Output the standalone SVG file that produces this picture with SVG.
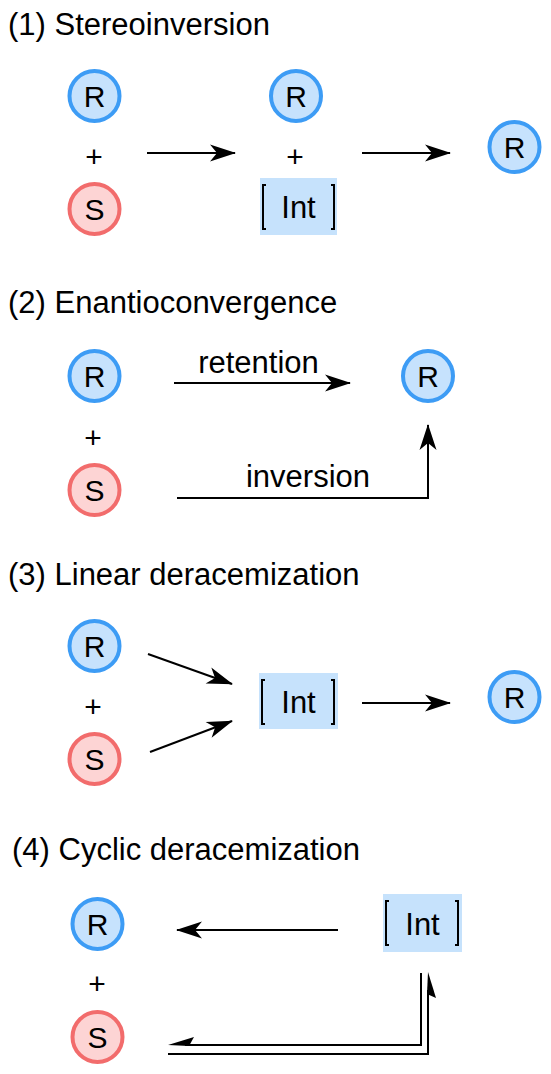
<svg xmlns="http://www.w3.org/2000/svg" width="551" height="1074" viewBox="0 0 551 1074">
<defs>
<style>
text{font-family:"Liberation Sans",Arial,sans-serif;fill:#000}
.t{font-size:31px}
.c{font-size:30px;text-anchor:middle}
.p{font-size:30px;text-anchor:middle}
.lb{font-size:31px;text-anchor:middle}
.r{fill:#c6e2fd;stroke:#3d9cf5;stroke-width:4}
.s{fill:#fdd4d4;stroke:#f26c6c;stroke-width:4}
.box{fill:#c6e2fc}
.br{fill:none;stroke:#000;stroke-width:2}
.ln{fill:none;stroke:#000;stroke-width:2}
.ar{marker-end:url(#ah)}
</style>
<marker id="ah" markerUnits="userSpaceOnUse" markerWidth="30" markerHeight="22" viewBox="-28 -11 30 22" refX="0" refY="0" orient="auto">
<path d="M1,0 L-25,-8.5 L-18,0 L-25,8.5 Z" fill="#000"/>
</marker>
</defs>

<g id="titles">
<text class="t" x="8" y="35">(1) Stereoinversion</text>
<text class="t" x="8" y="313">(2) Enantioconvergence</text>
<text class="t" x="8" y="585">(3) Linear deracemization</text>
<text class="t" x="12" y="860">(4) Cyclic deracemization</text>
</g>

<!-- Section 1 -->
<g id="s1-R1"><circle class="r" cx="94.5" cy="96" r="25"/><text class="c" x="94.5" y="106.5">R</text></g>
<g id="s1-plus1"><text class="p" x="94" y="167">+</text></g>
<g id="s1-S1"><circle class="s" cx="94.5" cy="209" r="25"/><text class="c" x="94.5" y="219.5">S</text></g>
<g id="s1-R2"><circle class="r" cx="296" cy="96" r="25"/><text class="c" x="296" y="106.5">R</text></g>
<g id="s1-plus2"><text class="p" x="295" y="167">+</text></g>
<g id="s1-Int"><rect class="box" x="260" y="178" width="77" height="57"/><path class="br" d="M266,185 h-3 v44 h3 M331,185 h3 v44 h-3"/><text class="c" x="298.5" y="217.5" style="font-size:31px">Int</text></g>
<g id="s1-R3"><circle class="r" cx="514.5" cy="147" r="25"/><text class="c" x="514.5" y="157.5">R</text></g>

<!-- Section 2 -->
<g id="s2-R1"><circle class="r" cx="94.5" cy="376" r="25"/><text class="c" x="94.5" y="386.5">R</text></g>
<g id="s2-plus"><text class="p" x="93" y="448">+</text></g>
<g id="s2-S1"><circle class="s" cx="94.5" cy="490" r="25"/><text class="c" x="94.5" y="500.5">S</text></g>
<g id="s2-R2"><circle class="r" cx="428" cy="376" r="25"/><text class="c" x="428" y="386.5">R</text></g>

<!-- Section 3 -->
<g id="s3-R1"><circle class="r" cx="94.5" cy="646" r="25"/><text class="c" x="94.5" y="656.5">R</text></g>
<g id="s3-plus"><text class="p" x="93" y="717">+</text></g>
<g id="s3-S1"><circle class="s" cx="94.5" cy="759" r="25"/><text class="c" x="94.5" y="769.5">S</text></g>
<g id="s3-Int"><rect class="box" x="259" y="673" width="79" height="56"/><path class="br" d="M265,680 h-3 v44 h3 M331,680 h3 v44 h-3"/><text class="c" x="298.5" y="712.5" style="font-size:31px">Int</text></g>
<g id="s3-R2"><circle class="r" cx="514.5" cy="697" r="25"/><text class="c" x="514.5" y="707.5">R</text></g>

<!-- Section 4 -->
<g id="s4-R1"><circle class="r" cx="97.5" cy="924" r="25"/><text class="c" x="97.5" y="934.5">R</text></g>
<g id="s4-plus"><text class="p" x="97" y="994">+</text></g>
<g id="s4-S1"><circle class="s" cx="97.5" cy="1037" r="25"/><text class="c" x="97.5" y="1047.5">S</text></g>
<g id="s4-Int"><rect class="box" x="383" y="894" width="79" height="58"/><path class="br" d="M389,901 h-3 v44 h3 M455,901 h3 v44 h-3"/><text class="c" x="422.5" y="934.5" style="font-size:31px">Int</text></g>

<g id="connectors">
<line class="ln ar" x1="147" y1="153" x2="235" y2="153"/>
<line class="ln ar" x1="362" y1="153" x2="450" y2="153"/>
<line class="ln ar" x1="174" y1="383" x2="350" y2="383"/>
<text class="lb" x="258.5" y="373">retention</text>
<path class="ln ar" d="M177,498 H428 V425"/>
<text class="lb" x="308" y="487">inversion</text>
<line class="ln ar" x1="148" y1="654" x2="232" y2="684"/>
<line class="ln ar" x1="150" y1="752" x2="232" y2="721"/>
<line class="ln ar" x1="362" y1="703" x2="450" y2="703"/>
<line class="ln ar" x1="338" y1="930" x2="177" y2="930"/>
<path class="ln" d="M421,973 V1045 H185"/>
<polygon points="168,1045 194,1037 189,1046" fill="#000"/>
<path class="ln" d="M168,1054 H428 V990"/>
<polygon points="428,972 436,998 427,994" fill="#000"/>
</g>
</svg>
